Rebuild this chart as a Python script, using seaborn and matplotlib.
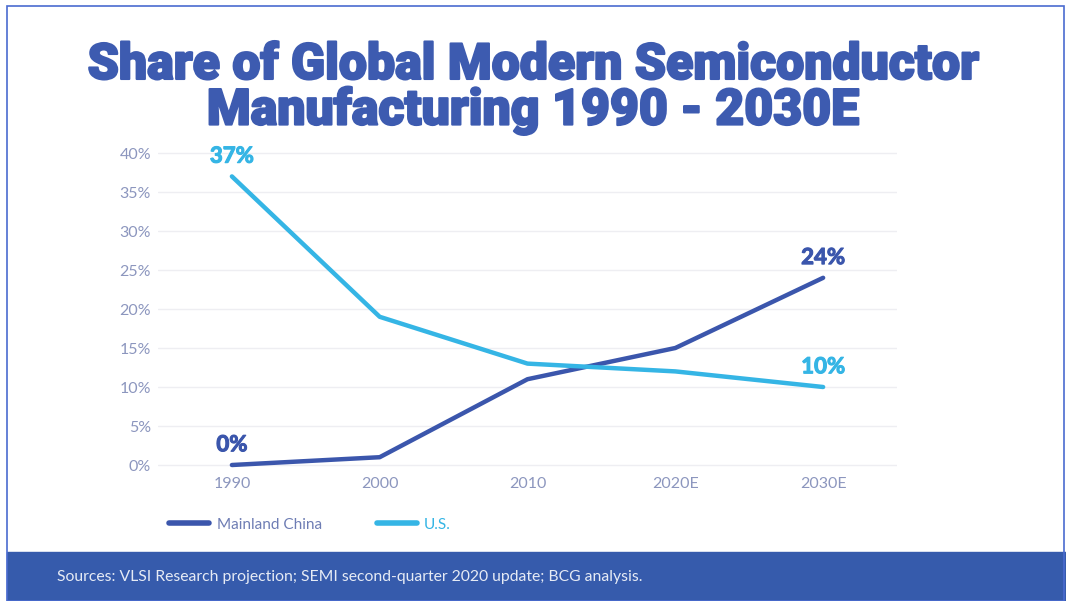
import matplotlib
matplotlib.use("Agg")
import matplotlib.pyplot as plt
import matplotlib.patches as mpatches
import matplotlib.patheffects as pe
import pandas as pd
import seaborn as sns

YEARS = ["1990", "2000", "2010", "2020E", "2030E"]
CHINA = [0, 1, 11, 15, 24]
US = [37, 19, 13, 12, 10]
SERIES = ["Mainland China", "U.S."]
Y_TICKS = [0, 5, 10, 15, 20, 25, 30, 35, 40]

DARK = "#3B56AC"
LIGHT = "#35B5E5"
TICK_COL = "#8C96BE"
BANNER = "#365BAC"
TITLE_COL = "#3D5BB0"

df = pd.DataFrame({
    "year": YEARS * 2,
    "share": CHINA + US,
    "region": [SERIES[0]] * len(YEARS) + [SERIES[1]] * len(YEARS),
})

sns.set_theme(style="white")
plt.rcParams["font.family"] = ["Lato", "DejaVu Sans"]

fig = plt.figure(figsize=(10.66, 6.01), dpi=100)
ax = fig.add_axes([0.1482, 0.2133, 0.6933, 0.5451])

sns.lineplot(data=df, x="year", y="share", hue="region",
             palette=[DARK, LIGHT], linewidth=3.2, ax=ax,
             sort=False, legend=True)

ax.set_xlim(-0.5, 4.5)
ax.set_ylim(-1, 41)
ax.set_yticks(Y_TICKS)
ax.set_yticklabels([f"{t}%" for t in Y_TICKS])
ax.yaxis.grid(True, color="#EEEEF2", linewidth=1)
ax.xaxis.grid(False)
for s in ax.spines.values():
    s.set_visible(False)
ax.set_xlabel("")
ax.set_ylabel("")
ax.tick_params(axis="both", length=0, labelsize=11.5, colors=TICK_COL)
ax.tick_params(axis="y", pad=5)
ax.tick_params(axis="x", pad=3)

# end labels
ann = [(YEARS[0], CHINA[0], DARK), (YEARS[-1], CHINA[-1], DARK),
       (YEARS[0], US[0], LIGHT), (YEARS[-1], US[-1], LIGHT)]
for x, v, c in ann:
    t = ax.annotate(f"{v}%", xy=(x, v), xytext=(0, 7), textcoords="offset points",
                    ha="center", va="bottom", fontsize=16, fontweight="bold", color=c)
    t.set_path_effects([pe.withStroke(linewidth=0.8, foreground=c)])

# legend
leg = ax.legend(loc="center left", bbox_to_anchor=(0.146, 0.127),
                bbox_transform=fig.transFigure, ncol=2, frameon=False,
                handlelength=2.6, handletextpad=0.5, columnspacing=3.6,
                fontsize=11)
for line in leg.get_lines():
    line.set_linewidth(4)
leg.get_texts()[0].set_color("#6E7DB4")
leg.get_texts()[1].set_color(LIGHT)

# title
for y, s in [(0.891, "Share of Global Modern Semiconductor"),
             (0.816, "Manufacturing 1990 - 2030E")]:
    t = fig.text(0.5, y, s, ha="center", va="center", fontsize=36,
                 fontweight=900, color=TITLE_COL,
                 family=["Roboto", "DejaVu Sans"])
    t.set_path_effects([pe.withStroke(linewidth=1.5, foreground=TITLE_COL)])

# frame and footer banner
fig.patches.append(mpatches.Rectangle((0.0066, 0.0), 0.9934, 0.0815,
                                      transform=fig.transFigure, color=BANNER, zorder=0))
fig.patches.append(mpatches.Rectangle((0.0066, 0.0), 0.9915, 0.99,
                                      transform=fig.transFigure, fill=False,
                                      edgecolor="#4A6BD0", linewidth=1.2, zorder=0))
fig.text(0.0535, 0.04, "Sources: VLSI Research projection; SEMI second-quarter 2020 update; BCG analysis.",
         ha="left", va="center", fontsize=11.3, color="#E6EBF5")

fig.savefig("out.png", dpi=100)
